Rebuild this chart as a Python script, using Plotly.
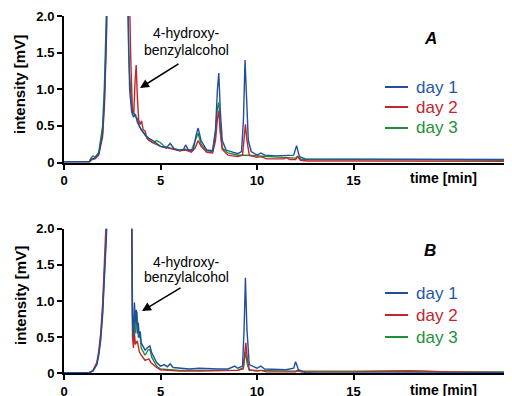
import plotly.graph_objects as go

# ---------------- data ----------------
# Panel A
tA1 = [0, 1.3, 1.4, 1.5, 1.6, 1.8, 2.0, 2.1, 2.2, 2.3, 2.5, 3.0, 3.3, 3.4, 3.5, 3.6, 3.7, 3.8, 3.9, 4.0,
       4.2, 4.4, 4.6, 4.8, 5.0, 5.3, 5.5, 5.7, 6.0, 6.2, 6.3, 6.45, 6.7, 6.85, 6.95, 7.1, 7.4, 7.7, 7.85,
       7.95, 8.02, 8.1, 8.2, 8.4, 8.7, 9.0, 9.2, 9.3, 9.38, 9.46, 9.55, 9.7, 10.0, 10.2, 10.4, 11.0, 11.5,
       11.9, 12.05, 12.2, 12.5, 14, 17, 20, 23.3]
yA1 = [0.01, 0.01, 0.05, 0.06, 0.06, 0.12, 0.4, 0.9, 1.8, 3.5, 6, 6, 2.2, 1.0, 0.7, 0.62, 0.66, 0.55, 0.5, 0.45,
       0.38, 0.33, 0.3, 0.26, 0.22, 0.2, 0.26, 0.19, 0.16, 0.18, 0.24, 0.17, 0.17, 0.38, 0.47, 0.3, 0.17, 0.16, 0.45,
       1.0, 1.22, 0.7, 0.3, 0.17, 0.14, 0.12, 0.15, 0.6, 1.4, 0.8, 0.3, 0.15, 0.1, 0.13, 0.1, 0.09, 0.09,
       0.1, 0.23, 0.08, 0.05, 0.05, 0.05, 0.05, 0.04]

tA2 = [0, 1.3, 1.45, 1.6, 1.8, 2.0, 2.1, 2.2, 2.3, 2.5, 3.0, 3.35, 3.45, 3.55, 3.62, 3.68, 3.74, 3.8, 3.87,
       3.95, 4.02, 4.1, 4.2, 4.3, 4.6, 5.0, 5.5, 6.0, 6.3, 6.6, 6.8, 6.95, 7.1, 7.4, 7.7, 7.85, 7.95, 8.02,
       8.1, 8.2, 8.5, 9.0, 9.25, 9.33, 9.4, 9.48, 9.6, 10.0, 10.2, 10.5, 11.0, 11.4, 11.5, 11.7, 12.0, 12.1,
       12.25, 12.6, 15, 20, 23.3]
yA2 = [0.0, 0.0, 0.04, 0.05, 0.1, 0.35, 0.8, 1.7, 3.5, 6, 6, 3.0, 1.5, 0.65, 0.7, 1.1, 1.33, 0.9, 0.58,
       0.52, 0.57, 0.45, 0.43, 0.33, 0.27, 0.22, 0.19, 0.16, 0.17, 0.14, 0.2, 0.3, 0.22, 0.14, 0.13, 0.3, 0.6, 0.7,
       0.4, 0.18, 0.1, 0.08, 0.1, 0.3, 0.52, 0.3, 0.1, 0.07, 0.08, 0.05, 0.05, 0.05, 0.07, 0.04, 0.04, 0.08,
       0.03, 0.02, 0.02, 0.02, 0.015]

tA3 = [0, 1.3, 1.4, 1.5, 1.6, 1.8, 2.0, 2.1, 2.2, 2.3, 2.5, 3.0, 3.3, 3.35, 3.4, 3.5, 3.6, 3.7, 3.8, 3.9,
       4.0, 4.2, 4.4, 4.6, 4.8, 5.0, 5.2, 5.5, 6.0, 6.3, 6.6, 6.8, 6.95, 7.1, 7.4, 7.7, 7.85, 7.95, 8.02,
       8.1, 8.2, 8.5, 9.0, 9.4, 10, 11, 12, 12.1, 12.3, 15, 20, 23.3]
yA3 = [0.01, 0.01, 0.06, 0.09, 0.07, 0.14, 0.5, 1.1, 2.1, 4, 6, 6, 3.0, 1.5, 1.2, 0.8, 0.7, 0.63, 0.6, 0.5,
       0.45, 0.38, 0.3, 0.27, 0.3, 0.27, 0.22, 0.2, 0.17, 0.18, 0.16, 0.3, 0.4, 0.25, 0.16, 0.15, 0.4, 0.75, 0.82,
       0.45, 0.2, 0.13, 0.1, 0.1, 0.09, 0.07, 0.06, 0.08, 0.04, 0.04, 0.035, 0.03]

# Panel B
tB1 = [0, 1.3, 1.5, 1.7, 1.8, 1.9, 2.0, 2.1, 2.2, 2.3, 2.5, 3.4, 3.5, 3.55, 3.6, 3.65, 3.7, 3.75, 3.8,
       3.85, 3.9, 3.95, 4.0, 4.2, 4.35, 4.45, 4.55, 4.8, 5.0, 5.2, 5.35, 5.5, 5.65, 6.0, 6.5, 7.0, 7.5, 8.0,
       8.5, 8.85, 9.0, 9.25, 9.33, 9.4, 9.48, 9.6, 10.0, 10.2, 10.4, 11, 11.5, 11.9, 12.0, 12.15, 12.5, 13,
       15, 17, 20, 23.3]
yB1 = [0.01, 0.01, 0.03, 0.12, 0.25, 0.45, 0.8, 1.3, 1.9, 3, 6, 6, 2.1, 0.8, 0.5, 0.98, 0.7, 0.88, 0.55,
       0.7, 0.5, 0.58, 0.42, 0.32, 0.36, 0.38, 0.28, 0.15, 0.1, 0.12, 0.09, 0.13, 0.08, 0.07, 0.06, 0.07, 0.06, 0.06,
       0.06, 0.1, 0.07, 0.1, 0.6, 1.32, 0.6, 0.12, 0.07, 0.1, 0.06, 0.06, 0.05, 0.07, 0.16, 0.05, 0.01, 0.0,
       0.0, 0.01, 0.01, 0.01]

tB2 = [0, 1.3, 1.5, 1.7, 1.8, 1.9, 2.0, 2.1, 2.2, 2.3, 2.5, 3.4, 3.5, 3.55, 3.6, 3.65, 3.7, 3.8, 3.9, 4.0,
       4.2, 4.4, 4.5, 4.8, 5.0, 6.0, 7.0, 8.0, 9.0, 9.28, 9.35, 9.42, 9.5, 9.6, 10, 10.2, 10.5, 12, 12.1,
       12.3, 15, 18, 20, 23.3]
yB2 = [0.0, 0.0, 0.04, 0.15, 0.3, 0.55, 0.95, 1.5, 2.2, 3.5, 6, 6, 1.5, 0.5, 0.35, 0.55, 0.4, 0.45, 0.3, 0.25,
       0.18, 0.2, 0.15, 0.08, 0.05, 0.03, 0.03, 0.03, 0.04, 0.06, 0.25, 0.42, 0.2, 0.05, 0.03, 0.04, 0.02, 0.02, 0.04,
       0.02, 0.02, 0.03, 0.02, 0.01]

tB3 = [0, 1.3, 1.5, 1.7, 1.8, 1.9, 2.0, 2.1, 2.2, 2.3, 2.5, 3.4, 3.5, 3.55, 3.6, 3.65, 3.7, 3.78, 3.85,
       3.95, 4.0, 4.2, 4.35, 4.45, 4.55, 4.8, 5.0, 6.0, 7, 8, 9.0, 9.3, 9.4, 9.5, 9.6, 10, 12, 15, 18, 20, 23.3]
yB3 = [0.01, 0.01, 0.035, 0.13, 0.27, 0.5, 0.85, 1.4, 2.0, 3.2, 6, 6, 1.8, 0.7, 0.45, 0.75, 0.55, 0.85, 0.5,
       0.5, 0.35, 0.25, 0.32, 0.33, 0.22, 0.1, 0.06, 0.04, 0.04, 0.04, 0.04, 0.08, 0.3, 0.12, 0.04, 0.04, 0.03,
       0.03, 0.035, 0.02, 0.02]

series_names = ["day 1", "day 2", "day 3"]
y_tickvals = [0, 0.5, 1.0, 1.5, 2.0]
y_ticktext = ["0", "0.5", "1.0", "1.5", "2.0"]
x_tickvals = [0, 5, 10, 15]
panel_labels = ["A", "B"]
annot_lines = ["4-hydroxy-", "benzylalcohol"]

# ---------------- styling ----------------
W, H = 512, 396
OX, OY = 8, 8   # page (body) margin offset of the plot div
COLORS = {"day 1": "#1f4f9e", "day 2": "#c3252c", "day 3": "#1f8e36"}
TXT_COLORS = {"day 1": "#2457a8", "day 2": "#c3252c", "day 3": "#23903a"}
FONT = "Liberation Sans, Arial, sans-serif"

def px_x(p):
    return (p - OX) / W

def px_y(p):
    return 1 - (p - OY) / H

fig = go.Figure()

panels = [
    ("x", "y", [(tA3, yA3, "day 3"), (tA2, yA2, "day 2"), (tA1, yA1, "day 1")]),
    ("x2", "y2", [(tB3, yB3, "day 3"), (tB2, yB2, "day 2"), (tB1, yB1, "day 1")]),
]
for xa, ya, trs in panels:
    for t, v, nm in trs:
        fig.add_trace(go.Scatter(x=t, y=v, mode="lines", name=nm, xaxis=xa, yaxis=ya,
                                 line=dict(color=COLORS[nm], width=1.4), showlegend=False))

x_dom = [px_x(64), px_x(512)]
domA = [px_y(162.5), px_y(16)]
domB = [px_y(373.3), px_y(228.7)]

xax = dict(range=[0, 448 / 19.3], domain=x_dom, showgrid=False, zeroline=False, automargin=False,
           showline=True, linecolor="black", linewidth=2, ticks="outside", ticklen=5,
           tickwidth=2, tickcolor="black", tickvals=x_tickvals,
           tickfont=dict(family=FONT, size=13, color="black", weight="bold"))
yax = dict(range=[0, 2.0], showgrid=False, zeroline=False, showline=True, linecolor="black",
           linewidth=2, ticks="outside", ticklen=5, tickwidth=2, tickcolor="black", automargin=False,
           tickvals=y_tickvals, ticktext=y_ticktext,
           tickfont=dict(family=FONT, size=13, color="black", weight="bold"))

fig.update_layout(
    template="none",
    width=W, height=H, margin=dict(l=0, r=0, t=0, b=0, pad=0), autosize=False,
    paper_bgcolor="white", plot_bgcolor="white", showlegend=False,
    xaxis=dict(xax, anchor="y"),
    yaxis=dict(yax, domain=domA, anchor="x"),
    xaxis2=dict(xax, anchor="y2"),
    yaxis2=dict(yax, domain=domB, anchor="x2"),
)

annotations = []
shapes = []

def txt(x, y, text, size, color="black", bold=False, italic=False, angle=0, xanchor="center"):
    s = text
    if bold:
        s = "<b>" + s + "</b>"
    if italic:
        s = "<i>" + s + "</i>"
    annotations.append(dict(x=px_x(x), y=px_y(y), xref="paper", yref="paper", text=s,
                            showarrow=False, xanchor=xanchor, yanchor="middle", textangle=angle,
                            font=dict(family=FONT, size=size, color=color)))

# per-panel decorations (pixel positions in the reference)
deco = [
    dict(off_title=85, lab=(430, 38), time=(443, 178), leg=[87, 107, 128],
         ann=[33, 50], arrow=((140, 88), (180, 63))),
    dict(off_title=296, lab=(430, 250), time=(443, 390), leg=[293, 315, 337],
         ann=[262, 277], arrow=((142, 311), (182, 287))),
]
for i, d in enumerate(deco):
    txt(20, d["off_title"], "intensity [mV]", 15, bold=True, angle=-90)
    txt(d["lab"][0], d["lab"][1], panel_labels[i], 17, bold=True, italic=True)
    txt(d["time"][0], d["time"][1], "time [min]", 14, bold=True)
    for nm, yy in zip(series_names, d["leg"]):
        shapes.append(dict(type="line", xref="paper", yref="paper", x0=px_x(385), x1=px_x(408),
                           y0=px_y(yy), y1=px_y(yy), line=dict(color=COLORS[nm], width=2)))
        txt(414, yy, nm, 17, color=TXT_COLORS[nm], xanchor="left")
    for line_txt, yy in zip(annot_lines, d["ann"]):
        txt(186, yy, line_txt, 14)
    (hx, hy), (tx, ty) = d["arrow"]
    annotations.append(dict(x=px_x(hx), y=px_y(hy), xref="paper", yref="paper", text="",
                            showarrow=True, ax=tx - hx, ay=ty - hy, arrowhead=2, arrowsize=1.2,
                            arrowwidth=1.5, arrowcolor="black"))

fig.update_layout(annotations=annotations, shapes=shapes)
fig.write_html("out.html")
